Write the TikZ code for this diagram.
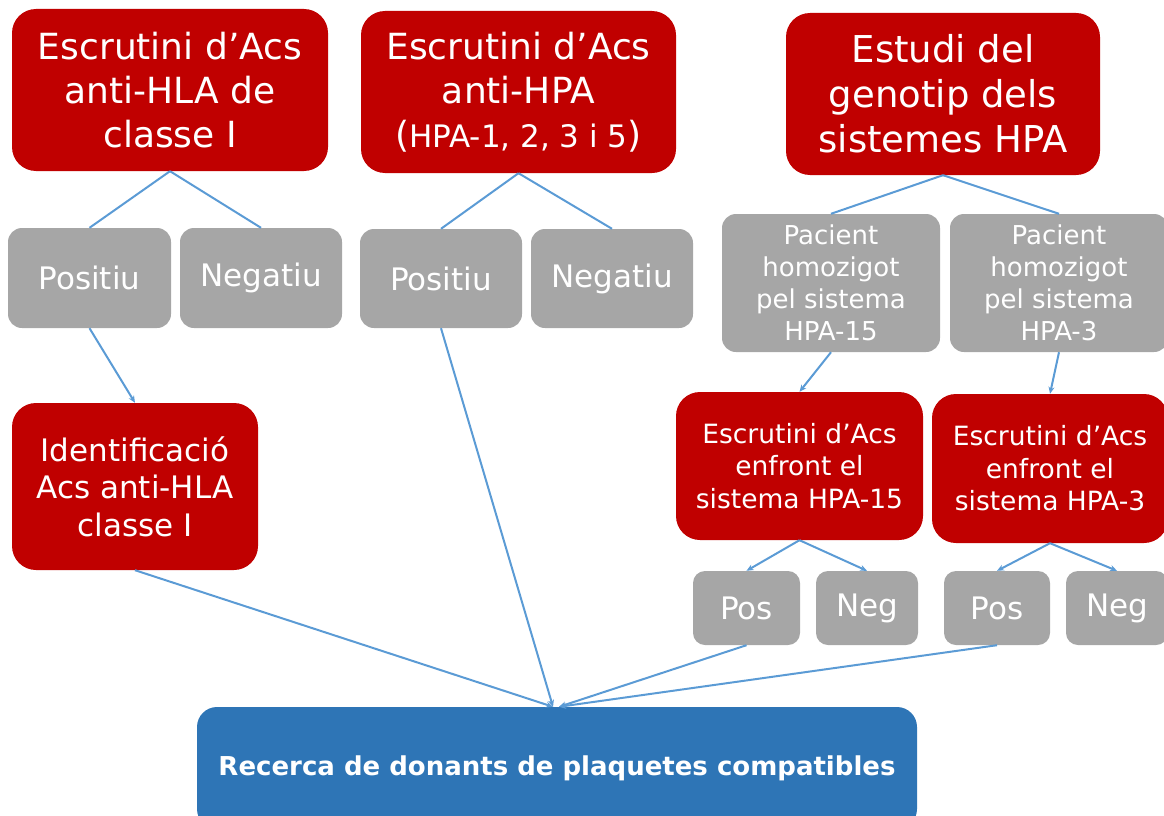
\documentclass[tikz,border=0pt]{standalone}
\usepackage{fontspec}
\setmainfont{DejaVu Sans}
\setsansfont{DejaVu Sans}
\usetikzlibrary{arrows.meta}
\definecolor{cred}{HTML}{C00000}
\definecolor{cgray}{HTML}{A6A6A6}
\definecolor{cblue}{HTML}{2E75B6}
\definecolor{cline}{HTML}{5B9BD5}
\newcommand{\fs}[2]{\fontsize{#1}{#2}\selectfont}
\begin{document}
\begin{tikzpicture}[x=1pt,y=-1pt,
  redbox/.style={rectangle, rounded corners=24pt, fill=cred, text=white, align=center, inner sep=0pt},
  graybox/.style={rectangle, rounded corners=14pt, fill=cgray, text=white, align=center, inner sep=0pt},
  smallbox/.style={rectangle, rounded corners=12pt, fill=cgray, text=white, align=center, inner sep=0pt},
  bluebox/.style={rectangle, rounded corners=20pt, fill=cblue, text=white, align=center, inner sep=0pt},
  conn/.style={draw=cline, line width=2pt},
  arr/.style={conn, -{Stealth[length=7pt,width=6pt]}}]
\useasboundingbox (0,0) rectangle (1164,816);

% top boxes
\node[redbox, minimum width=316pt, minimum height=162pt, font=\fs{36}{44}] (A) at (170,90)
  {Escrutini d’Acs\\anti-HLA de\\classe I};
\node[redbox, minimum width=315pt, minimum height=162pt, font=\fs{36}{44}] (B) at (518.5,92)
  {Escrutini d’Acs\\anti-HPA\\({\fs{31}{44}HPA-1, 2, 3 i 5})};
\node[redbox, minimum width=314pt, minimum height=162pt, font=\fs{37}{45}] (C) at (943,94)
  {Estudi del\\genotip dels\\sistemes HPA};

% second row
\node[graybox, minimum width=163pt, minimum height=100pt, font=\fs{31}{38}] (P1) at (89.5,278) {Positiu};
\node[graybox, minimum width=162pt, minimum height=100pt, font=\fs{31}{38}] (N1) at (261,278) {Negatiu};
\node[graybox, minimum width=162pt, minimum height=99pt, font=\fs{31}{38}] (P2) at (441,278.5) {Positiu};
\node[graybox, minimum width=162pt, minimum height=99pt, font=\fs{31}{38}] (N2) at (612,278.5) {Negatiu};
\node[graybox, minimum width=218pt, minimum height=138pt, font=\fs{26}{32}] (PA1) at (831,283)
  {Pacient\\homozigot\\pel sistema\\HPA-15};
\node[graybox, minimum width=218pt, minimum height=138pt, font=\fs{26}{32}] (PA2) at (1059,283)
  {Pacient\\homozigot\\pel sistema\\HPA-3};

% third row
\node[redbox, minimum width=246pt, minimum height=167pt, font=\fs{31}{37.5}] (D) at (135,486.5)
  {Identificació\\Acs anti-HLA\\classe I};
\node[redbox, minimum width=247pt, minimum height=148pt, font=\fs{26.5}{32.5}] (E15) at (799.5,466)
  {Escrutini d’Acs\\enfront el\\sistema HPA-15};
\node[redbox, minimum width=236pt, minimum height=149pt, font=\fs{26.5}{32.5}] (E3) at (1050,468.5)
  {Escrutini d’Acs\\enfront el\\sistema HPA-3};

% fourth row
\node[smallbox, minimum width=107pt, minimum height=74pt, font=\fs{31}{38}] (Pos1) at (746.5,608) {Pos};
\node[smallbox, minimum width=102pt, minimum height=74pt, font=\fs{31}{38}] (Neg1) at (867,608) {Neg};
\node[smallbox, minimum width=106pt, minimum height=74pt, font=\fs{31}{38}] (Pos2) at (997,608) {Pos};
\node[smallbox, minimum width=102pt, minimum height=74pt, font=\fs{31}{38}] (Neg2) at (1117,608) {Neg};

% bottom
\node[bluebox, minimum width=720pt, minimum height=122pt, font=\fs{26}{32}\bfseries] (R) at (557,768)
  {Recerca de donants de plaquetes compatibles};

% connectors
\draw[conn] (A.south) -- (P1.north);
\draw[conn] (A.south) -- (N1.north);
\draw[conn] (B.south) -- (P2.north);
\draw[conn] (B.south) -- (N2.north);
\draw[conn] (C.south) -- (PA1.north);
\draw[conn] (C.south) -- (PA2.north);
\draw[arr] (P1.south) -- (D.north);
\draw[arr] (PA1.south) -- (E15.north);
\draw[arr] (PA2.south) -- (E3.north);
\draw[arr] (E15.south) -- (Pos1.north);
\draw[arr] (E15.south) -- (Neg1.north);
\draw[arr] (E3.south) -- (Pos2.north);
\draw[arr] (E3.south) -- (Neg2.north);
\draw[arr] (D.south) -- ([xshift=-4pt]R.north);
\draw[arr] (P2.south) -- ([xshift=-4pt]R.north);
\draw[arr] (Pos1.south) -- ([xshift=2pt]R.north);
\draw[arr] (Pos2.south) -- ([xshift=2pt]R.north);
\end{tikzpicture}
\end{document}
